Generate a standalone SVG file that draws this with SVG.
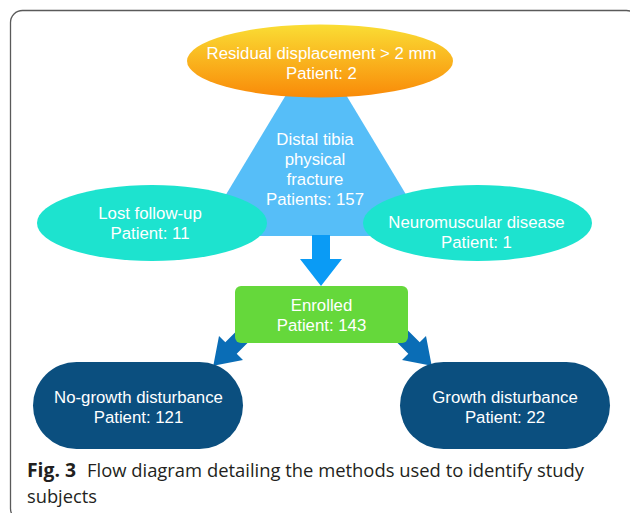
<svg xmlns="http://www.w3.org/2000/svg" width="630" height="513" viewBox="0 0 630 513">
  <defs>
    <linearGradient id="orangeFill" x1="0" y1="0" x2="0" y2="1">
      <stop offset="0" stop-color="#FADD34"/>
      <stop offset="1" stop-color="#F98A08"/>
    </linearGradient>
  </defs>
  <style>
    .lbl { font-family: "Liberation Sans", Arial, sans-serif; font-size: 16.8px; fill: #ffffff; text-anchor: middle; }
    .cap { font-family: "Open Sans", "Noto Sans", sans-serif; font-size: 19px; fill: #231f20; }
    .teal { fill: #1DE3CF; }
    .pill { fill: #0B4F7F; }
    .diag { fill: #0A6DB6; }
  </style>

  <!-- panel frame -->
  <rect x="10.5" y="10.5" width="628" height="510" rx="12" fill="#ffffff" stroke="#5a5a5a" stroke-width="1.3"/>

  <!-- start node (triangle sits behind the exclusion ellipses) -->
  <g id="node-fracture">
    <polygon points="316,45 201,236 431,236" fill="#56BEF8"/>
    <text class="lbl" x="315" y="144.5">Distal tibia</text>
    <text class="lbl" x="315" y="164.5">physical</text>
    <text class="lbl" x="315" y="184.5">fracture</text>
    <text class="lbl" x="315" y="204.5">Patients: 157</text>
  </g>

  <g id="connectors">
    <!-- main flow down to enrolment -->
    <path d="M312,235 H330 V259 H342 L321,286 L300,259 H312 Z" fill="#0A9BF5"/>
    <!-- split into outcome groups -->
    <polygon class="diag" points="246.3,321.3 225.3,342.3 219,336 213.3,365.7 243,360 236.7,353.7 257.7,332.7"/>
    <polygon class="diag" points="398.7,321.3 419.7,342.3 426,336 431.7,365.7 402,360 408.3,353.7 387.3,332.7"/>
  </g>

  <g id="node-displacement">
    <ellipse cx="320" cy="61" rx="133" ry="36.5" fill="url(#orangeFill)"/>
    <text class="lbl" x="321.5" y="59">Residual displacement &gt; 2 mm</text>
    <text class="lbl" x="321.5" y="78.5">Patient: 2</text>
  </g>

  <g id="node-lost">
    <ellipse class="teal" cx="152" cy="223" rx="115" ry="38"/>
    <text class="lbl" x="150" y="219">Lost follow-up</text>
    <text class="lbl" x="150" y="239">Patient: 11</text>
  </g>

  <g id="node-neuromuscular">
    <ellipse class="teal" cx="477.5" cy="223" rx="114.5" ry="38"/>
    <text class="lbl" x="476.5" y="228">Neuromuscular disease</text>
    <text class="lbl" x="476.5" y="248">Patient: 1</text>
  </g>

  <g id="node-enrolled">
    <rect x="235" y="286" width="173" height="57" rx="6" fill="#65D83B"/>
    <text class="lbl" x="321.5" y="311">Enrolled</text>
    <text class="lbl" x="321.5" y="331">Patient: 143</text>
  </g>

  <g id="node-no-growth">
    <rect class="pill" x="33" y="362" width="210" height="87" rx="43.5"/>
    <text class="lbl" x="138.5" y="403">No-growth disturbance</text>
    <text class="lbl" x="138.5" y="423">Patient: 121</text>
  </g>

  <g id="node-growth">
    <rect class="pill" x="400" y="362" width="210" height="87" rx="43.5"/>
    <text class="lbl" x="505" y="403">Growth disturbance</text>
    <text class="lbl" x="505" y="423">Patient: 22</text>
  </g>

  <!-- figure caption -->
  <text class="cap" x="27" y="477"><tspan font-weight="bold" textLength="49" lengthAdjust="spacingAndGlyphs">Fig. 3</tspan></text>
  <text class="cap" x="87" y="477" textLength="497" lengthAdjust="spacingAndGlyphs">Flow diagram detailing the methods used to identify study</text>
  <text class="cap" x="27" y="503" textLength="70" lengthAdjust="spacingAndGlyphs">subjects</text>
</svg>
